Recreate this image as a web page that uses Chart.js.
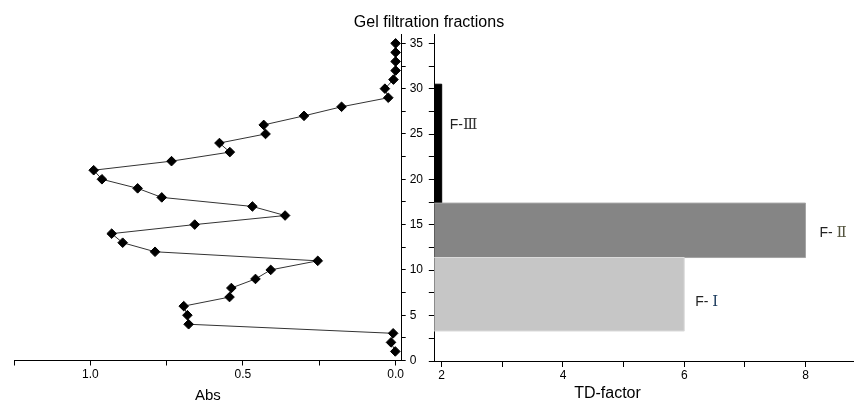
<!DOCTYPE html>
<html>
<head>
<meta charset="utf-8">
<script src="https://cdn.jsdelivr.net/npm/chart.js@4.4.0/dist/chart.umd.min.js"></script>
<style>
  html, body { margin: 0; padding: 0; background: #fff; overflow: hidden; }
  body { width: 854px; height: 402px; position: relative; font-family: "Liberation Sans", Arial, sans-serif; }
  #absBox { position: absolute; left: 0; top: 0; }
  #tdBox { position: absolute; left: 420px; top: 0; }
  #title { position: absolute; left: 329px; top: 13.6px; width: 200px; text-align: center; font-size: 16px; line-height: 1; color: #000; white-space: nowrap; }
</style>
</head>
<body>
<div id="absBox"><canvas id="absChart" width="430" height="410"></canvas></div>
<div id="tdBox"><canvas id="tdChart" width="434" height="410"></canvas></div>
<div id="title">Gel filtration fractions</div>
<script>
// ---- data ----
const fractions = [1, 2, 3, 4, 5, 6, 7, 8, 9, 10, 11, 12, 13, 14, 15, 16, 17, 18,
  19, 20, 21, 22, 23, 24, 25, 26, 27, 28, 29, 30, 31, 32, 33, 34, 35];
const absValues = [0.001, 0.015, 0.008, 0.678, 0.682, 0.694, 0.544, 0.538, 0.459,
  0.409, 0.255, 0.788, 0.894, 0.930, 0.658, 0.362, 0.469, 0.766, 0.845, 0.962,
  0.989, 0.734, 0.543, 0.577, 0.426, 0.432, 0.300, 0.177, 0.024, 0.035, 0.007,
  0.0, 0.0, 0.0, 0.0];

const fractionNames = ['F- Ⅰ', 'F- Ⅱ', 'F-Ⅲ'];
const fractionStart = [3.3, 11.4, 17.4];
const fractionEnd = [11.4, 17.4, 30.5];
const tdFactor = [6, 8, 2];

const absTickLabels = [0, 0.5, 1.0];
const tdTickLabels = [2, 4, 6, 8];
const fractionTickLabels = [0, 5, 10, 15, 20, 25, 30, 35];

// styling
const barFill = ['#c6c6c6', '#858585', '#000000'];
const barEdge = ['#dcdcdc', '#a4a4a4', '#000000'];
const numeralColor = ['#1b3a5c', '#55553f', '#333333'];
const labelGap = [11, 14, 8];      // px right of bar end
const labelAt = [6.5, 14.1, 26];   // fraction where the label sits

Chart.defaults.font.family = '"Liberation Sans", Arial, sans-serif';
Chart.defaults.font.size = 12;
Chart.defaults.color = '#000';

const hasLabel = (list, v) => list.some(l => Math.abs(l - v) < 1e-9);

function axisGrid(len) {
  return { display: true, drawOnChartArea: false, drawTicks: true, tickLength: len, tickColor: '#000', color: '#000' };
}

// 1. Abs profile (left)
new Chart(document.getElementById('absChart'), {
  type: 'scatter',
  data: {
    datasets: [{
      data: fractions.map((f, i) => ({ x: absValues[i], y: f })),
      showLine: true,
      borderColor: '#333',
      borderWidth: 1,
      tension: 0,
      pointStyle: 'rectRot',
      pointRadius: 4.8,
      pointBackgroundColor: '#000',
      pointBorderColor: '#000',
      pointBorderWidth: 1,
      clip: false
    }]
  },
  options: {
    responsive: false,
    animation: false,
    layout: { padding: { left: 14, top: 34.3, right: 0, bottom: 0 } },
    plugins: { legend: { display: false }, tooltip: { enabled: false } },
    scales: {
      x: {
        type: 'linear', reverse: true, min: -0.02, max: 1.25, z: 1,
        grid: axisGrid(5),
        border: { display: true, color: '#000', width: 1 },
        ticks: {
          stepSize: 0.25, includeBounds: false, autoSkip: false, maxRotation: 0, padding: 2,
          callback: v => hasLabel(absTickLabels, v) ? v.toFixed(1) : ''
        },
        title: { display: true, text: 'Abs', font: { size: 15 }, padding: { top: 0, bottom: 5 } },
        afterFit: s => { s.height = 410 - 360.5; }
      },
      y: {
        type: 'linear', position: 'right', min: 0, max: 36, z: 1,
        grid: axisGrid(4),
        border: { display: true, color: '#000', width: 1 },
        ticks: {
          stepSize: 2.5, includeBounds: false, autoSkip: false, padding: 4,
          callback: v => hasLabel(fractionTickLabels, v) ? String(v) : ''
        },
        afterFit: s => { s.width = 430 - 401.7; }
      }
    }
  }
});

// 2. TD-factor bars (right)
const labelPlugin = {
  id: 'fractionLabels',
  afterDatasetsDraw(chart) {
    const { ctx, scales: { x, y } } = chart;
    ctx.save();
    ctx.textBaseline = 'middle';
    fractionNames.forEach((name, i) => {
      const prefix = name.slice(0, -1);
      const numeral = name.slice(-1);
      const px = x.getPixelForValue(tdFactor[i]) + labelGap[i];
      const py = y.getPixelForValue(labelAt[i]);
      ctx.font = '14px "Liberation Sans", Arial, sans-serif';
      ctx.fillStyle = '#222';
      ctx.fillText(prefix, px, py);
      const w = ctx.measureText(prefix).width;
      ctx.font = '15px "DejaVu Serif", "Liberation Serif", "Noto Sans CJK SC", serif';
      ctx.fillStyle = numeralColor[i];
      ctx.fillText(numeral, px + w, py);
    });
    ctx.font = '16px "Liberation Sans", Arial, sans-serif';
    ctx.fillStyle = '#000';
    ctx.textAlign = 'center';
    ctx.fillText('TD-factor', 607.5 - 420, 394);
    ctx.restore();
  }
};

new Chart(document.getElementById('tdChart'), {
  type: 'scatter',
  data: {
    datasets: fractionNames.map((name, i) => ({
      label: name,
      data: [
        { x: 0, y: fractionStart[i] },
        { x: tdFactor[i], y: fractionStart[i] },
        { x: tdFactor[i], y: fractionEnd[i] },
        { x: 0, y: fractionEnd[i] }
      ],
      showLine: true,
      fill: 'shape',
      backgroundColor: barFill[i],
      borderColor: barEdge[i],
      borderWidth: 1,
      pointRadius: 0,
      tension: 0
    }))
  },
  options: {
    responsive: false,
    animation: false,
    layout: { padding: { left: 0, top: 34.3, right: 0, bottom: 0 } },
    plugins: { legend: { display: false }, tooltip: { enabled: false } },
    scales: {
      x: {
        type: 'linear', min: 1.878, max: 8.8, z: 1,
        grid: axisGrid(6),
        border: { display: true, color: '#000', width: 1 },
        ticks: {
          stepSize: 1, includeBounds: false, autoSkip: false, maxRotation: 0, padding: 1,
          callback: v => hasLabel(tdTickLabels, v) ? String(v) : ''
        },
        afterFit: s => { s.height = 410 - 361; }
      },
      y: {
        type: 'linear', position: 'left', min: 0, max: 36, z: 1,
        grid: axisGrid(5.5),
        border: { display: true, color: '#000', width: 1 },
        ticks: { stepSize: 2.5, includeBounds: false, autoSkip: false, callback: () => '' },
        afterFit: s => { s.width = 434.3 - 420; }
      }
    }
  },
  plugins: [labelPlugin]
});
</script>
</body>
</html>
